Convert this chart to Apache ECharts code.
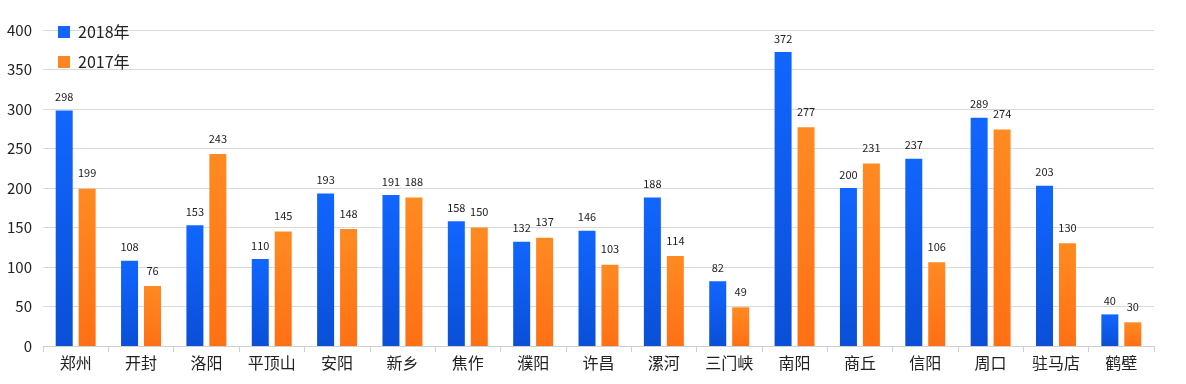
<!DOCTYPE html>
<html><head><meta charset="utf-8">
<script src="https://cdn.jsdelivr.net/npm/echarts@6/dist/echarts.min.js"></script>
<style>html,body{margin:0;padding:0;background:#fff}#c{width:1186px;height:384px}</style>
</head><body><div id="c"></div>
<script>
const categories = ['郑州','开封','洛阳','平顶山','安阳','新乡','焦作','濮阳','许昌','漯河','三门峡','南阳','商丘','信阳','周口','驻马店','鹤壁'];
const values2018 = [298,108,153,110,193,191,158,132,146,188,82,372,200,237,289,203,40];
const values2017 = [199,76,243,145,148,188,150,137,103,114,49,277,231,106,274,130,30];
const yTicks = {min:0, max:400, interval:50};

const chart = echarts.init(document.getElementById('c'));
const grad = (a,b)=>new echarts.graphic.LinearGradient(0,0,0,1,[{offset:0,color:a},{offset:1,color:b}]);
const font = '"Noto Sans CJK SC", "Noto Sans", sans-serif';
chart.setOption({
  animation:false,
  textStyle:{fontFamily:font},
  grid:{left:43,right:32,top:30,bottom:38},
  legend:{
    orient:'vertical', left:53, top:19, itemWidth:12, itemHeight:12, itemGap:14,
    icon:'rect', textStyle:{fontSize:16,color:'#222',fontFamily:font,padding:[0,0,0,3]},
    data:[{name:'2018年',itemStyle:{color:'#1166FF'}},{name:'2017年',itemStyle:{color:'#FF8422'}}]
  },
  xAxis:{
    type:'category', data:categories,
    axisLine:{lineStyle:{color:'#d0d0d0'}},
    axisTick:{show:true,length:6,lineStyle:{color:'#d0d0d0'}},
    axisLabel:{fontSize:16,color:'#222',margin:9,fontFamily:font}
  },
  yAxis:{
    type:'value', min:yTicks.min, max:yTicks.max, interval:yTicks.interval,
    axisLine:{show:false}, axisTick:{show:false},
    splitLine:{lineStyle:{color:'#d9d9d9'}},
    axisLabel:{fontSize:15,color:'#222',margin:11,fontFamily:font}
  },
  series:[
    {name:'2018年',type:'bar',data:values2018,barWidth:17,barGap:'35%',
     itemStyle:{color:grad('#1166FF','#0A4FD6')},
     label:{show:true,position:'top',distance:8,fontSize:11,color:'#222',fontFamily:font}},
    {name:'2017年',type:'bar',data:values2017,barWidth:17,
     itemStyle:{color:grad('#FF8A22','#FF7014')},
     label:{show:true,position:'top',distance:10,fontSize:11,color:'#222',fontFamily:font}}
  ]
});
</script></body></html>
